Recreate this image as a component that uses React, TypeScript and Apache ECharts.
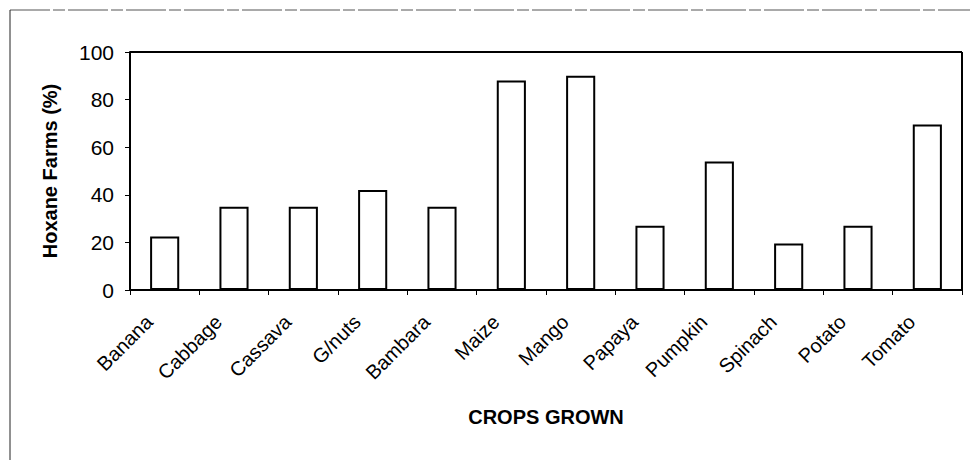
import React, { useEffect, useRef } from "react";
import * as echarts from "echarts";

const categories = ["Banana", "Cabbage", "Cassava", "G/nuts", "Bambara", "Maize", "Mango", "Papaya", "Pumpkin", "Spinach", "Potato", "Tomato"];
const values = [22.5, 35, 35, 42, 35, 88, 90, 27, 54, 19.5, 27, 69.5];
const yTicks = [0, 20, 40, 60, 80, 100];

export default function App() {
  const ref = useRef<HTMLDivElement>(null);
  useEffect(() => {
    if (!ref.current) return;
    const chart = echarts.init(ref.current, null, { renderer: "svg" });
    const font = "Liberation Sans, Arial, sans-serif";
    chart.setOption({
      animation: false,
      backgroundColor: "#ffffff",
      graphic: [
        { type: "line", shape: { x1: 10, y1: 10, x2: 970, y2: 10 }, style: { stroke: "#555", lineWidth: 1, lineDash: [40, 3, 12, 3] } },
        { type: "line", shape: { x1: 10, y1: 10, x2: 10, y2: 460 }, style: { stroke: "#222", lineWidth: 1 } },
        { type: "line", shape: { x1: 130, y1: 52, x2: 962, y2: 52 }, style: { stroke: "#000", lineWidth: 2 } },
        { type: "line", shape: { x1: 962, y1: 52, x2: 962, y2: 290 }, style: { stroke: "#000", lineWidth: 2 } },
      ],
      grid: { left: 130, top: 52, right: 8, bottom: 170, containLabel: false },
      xAxis: {
        type: "category",
        data: categories,
        name: "CROPS GROWN",
        nameLocation: "middle",
        nameGap: 117,
        nameTextStyle: { fontFamily: font, fontSize: 20, fontWeight: "bold", color: "#000" },
        axisLine: { lineStyle: { color: "#000", width: 2 } },
        axisTick: { show: true, length: 5, inside: false, alignWithLabel: false, lineStyle: { color: "#000" } },
        axisLabel: {
          rotate: 45,
          fontFamily: font,
          fontSize: 20,
          color: "#000",
          margin: 13,
          padding: [0, 22, 0, 0],
          interval: 0,
        },
      },
      yAxis: {
        type: "value",
        min: 0,
        max: 100,
        interval: 20,
        name: "Hoxane Farms (%)",
        nameLocation: "middle",
        nameGap: 70,
        nameRotate: 90,
        nameTextStyle: { fontFamily: font, fontSize: 20, fontWeight: "bold", color: "#000" },
        axisLine: { show: true, lineStyle: { color: "#000", width: 2 } },
        axisTick: { show: true, length: 5, lineStyle: { color: "#000" } },
        axisLabel: {
          fontFamily: font,
          fontSize: 21,
          color: "#000",
          margin: 16,
          formatter: (v: number) => (yTicks.includes(v) ? String(v) : ""),
        },
        splitLine: { show: false },
      },
      series: [
        {
          type: "bar",
          data: values,
          barWidth: "42%",
          itemStyle: { color: "#ffffff", borderColor: "#000", borderWidth: 2 },
        },
      ],
    });
    return () => chart.dispose();
  }, []);
  return <div ref={ref} style={{ position: "absolute", left: 0, top: 0, width: 970, height: 460 }} />;
}
